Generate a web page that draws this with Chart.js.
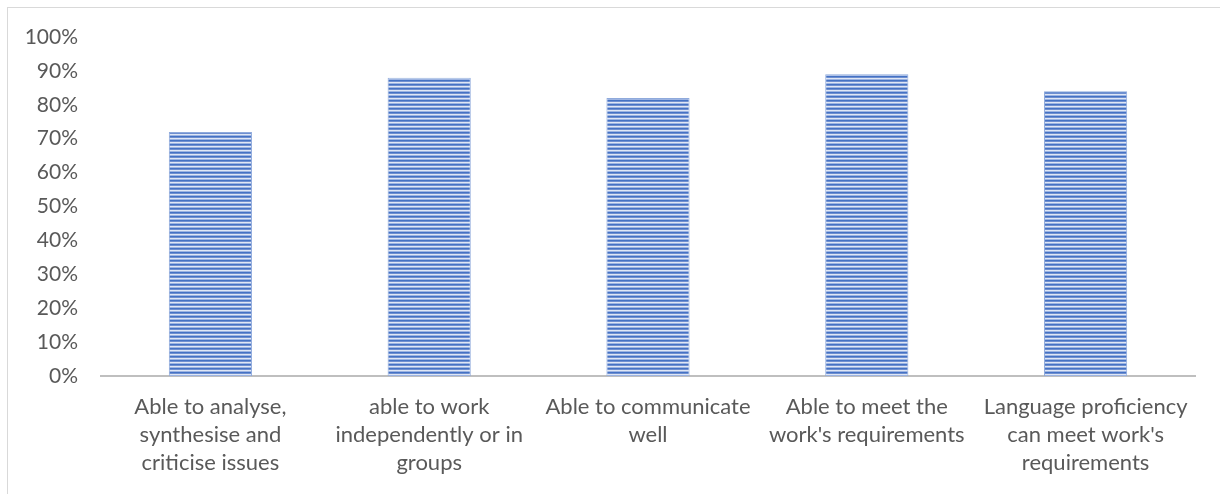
<!DOCTYPE html>
<html>
<head>
<meta charset="utf-8">
<script src="https://cdn.jsdelivr.net/npm/chart.js@4/dist/chart.umd.min.js"></script>
<style>
  html, body { margin: 0; padding: 0; background: #fff; overflow: hidden; }
  #frame {
    position: absolute; left: 7px; top: 7px; width: 1240px; height: 520px;
    border: 1px solid #d9d9d9; box-sizing: border-box;
  }
  #wrap { position: absolute; left: 0; top: 0; width: 1220px; height: 494px; }
</style>
</head>
<body>
<div id="frame"></div>
<div id="wrap"><canvas id="chartCanvas" width="1220" height="494"></canvas></div>
<script>
// categories (multi-line labels as in the reference)
const categories = [
  ["Able to analyse,", "synthesise and", "criticise issues"],
  ["able to work", "independently or in", "groups"],
  ["Able to communicate", "well"],
  ["Able to meet the", "work's requirements"],
  ["Language proficiency", "can meet work's", "requirements"],
];
// share of respondents, in percent
const values = [72, 88, 82, 89, 84];
const yTicks = [0, 10, 20, 30, 40, 50, 60, 70, 80, 90, 100];

// horizontal striped fill like the original bars
const makeStripes = () => {
  const c = document.createElement("canvas");
  c.width = 4;
  c.height = 4;
  const g = c.getContext("2d");
  const rows = ["#4472c4", "#6f8fd0", "#dfe7f5", "#9db4e2"];
  rows.forEach((col, i) => {
    g.fillStyle = col;
    g.fillRect(0, i, 4, 1);
  });
  return g.createPattern(c, "repeat");
};

const ctx = document.getElementById("chartCanvas").getContext("2d");
const stripes = makeStripes();

new Chart(ctx, {
  type: "bar",
  data: {
    labels: categories,
    datasets: [
      {
        data: values,
        backgroundColor: stripes,
        borderColor: "#8faadc",
        borderWidth: 1,
        categoryPercentage: 1,
        barPercentage: 0.38,
      },
    ],
  },
  options: {
    responsive: false,
    animation: false,
    layout: { padding: { top: 37, left: 0, right: 25, bottom: 0 } },
    plugins: { legend: { display: false }, tooltip: { enabled: false } },
    scales: {
      x: {
        grid: { display: false, drawTicks: false },
        border: { display: true, color: "#bfbfbf", width: 2 },
        ticks: {
          color: "#595959",
          font: { family: "Lato", size: 22, lineHeight: "28px" },
          padding: 17,
          maxRotation: 0,
          autoSkip: false,
        },
        afterFit: (scale) => { scale.height = 494 - 376; },
      },
      y: {
        min: 0,
        max: 100,
        grid: { display: false, drawTicks: false },
        border: { display: false },
        afterBuildTicks: (scale) => {
          scale.ticks = yTicks.map((v) => ({ value: v }));
        },
        ticks: {
          color: "#595959",
          font: { family: "Lato", size: 21 },
          padding: 23,
          callback: (v) => v + "%",
        },
        afterFit: (scale) => { scale.width = 101; },
      },
    },
  },
});
</script>
</body>
</html>
